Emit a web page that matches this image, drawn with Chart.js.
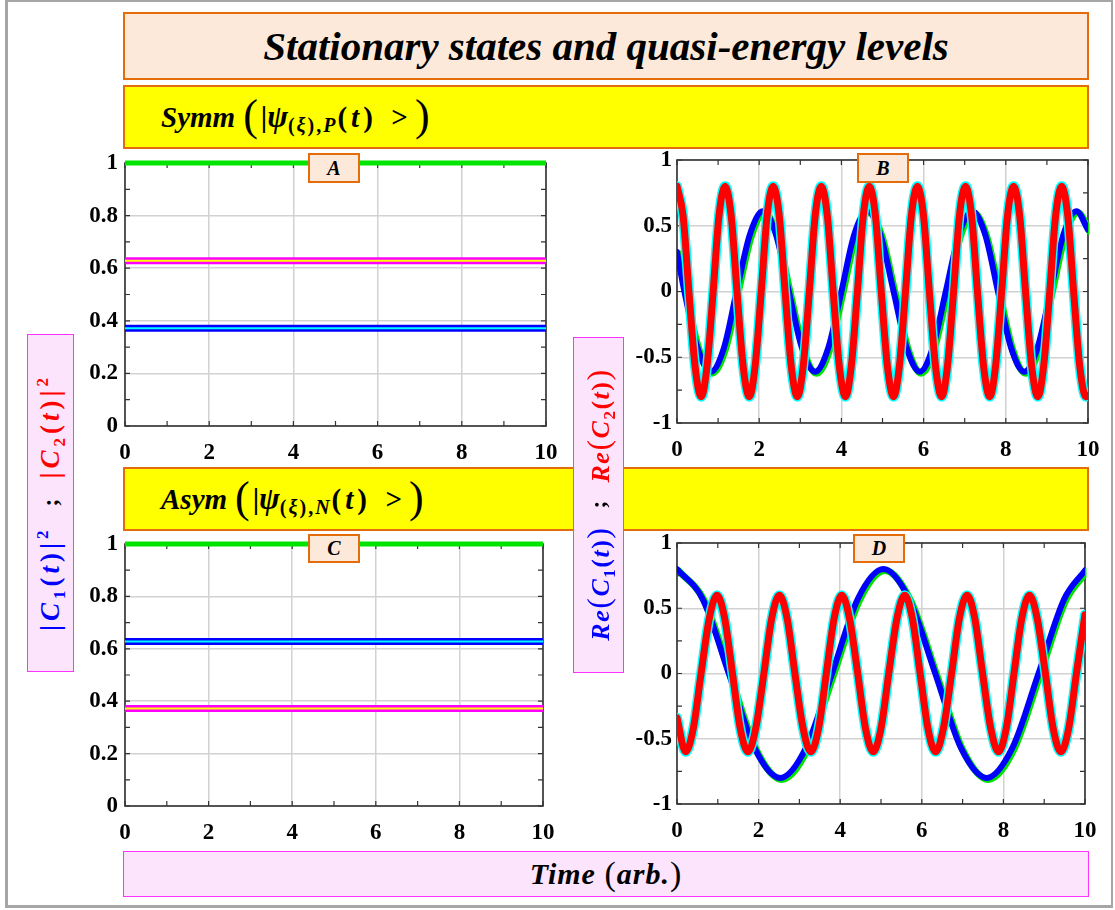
<!DOCTYPE html>
<html>
<head>
<meta charset="utf-8">
<script src="https://cdn.jsdelivr.net/npm/chart.js@4.4.1/dist/chart.umd.min.js"></script>
<style>
  html, body { margin:0; padding:0; background:#fff; }
  body { width:1115px; height:910px; position:relative; overflow:hidden; font-family:"Liberation Serif", serif; }
  .abs { position:absolute; box-sizing:border-box; }
  .frame { left:5px; top:0; width:1108px; height:908px; border-left:3px solid #a6a6a6; border-top:2px solid #a6a6a6; border-bottom:3px solid #a6a6a6; border-right:2px solid #a6a6a6; }
  .title { left:123px; top:12px; width:966px; height:68px; background:#fde9d9; border:2px solid #e46c0a; display:flex; align-items:center; justify-content:center; font-weight:bold; font-style:italic; font-size:41px; color:#000; }
  .yel { left:123px; width:966px; height:64px; background:#ffff00; border:2px solid #e46c0a; display:flex; align-items:center; padding-left:36px; font-weight:bold; font-size:29px; color:#000; white-space:nowrap; }
  .it { font-style:italic; font-weight:bold; }
  .bp { font-size:44px; font-weight:normal; font-style:normal; position:relative; top:-2px; margin:0 3px; }
  .sub { font-size:20px; position:relative; top:8px; font-weight:bold; letter-spacing:2px; }
  .ps { font-size:31px; }
  .plab { width:52px; height:30px; background:#fde9d9; border:2px solid #e46c0a; display:flex; align-items:center; justify-content:center; font-weight:bold; font-style:italic; font-size:20px; color:#000; }
  .pink { background:#fde4fd; border:1.5px solid #ff33ff; }
  .rot { position:absolute; display:flex; align-items:center; justify-content:center; transform:rotate(-90deg); white-space:nowrap; font-weight:bold; font-size:27px; letter-spacing:4px; }
  .blue { color:#0000ff; }
  .red { color:#ff0000; }
  .semi { color:#000; margin:0 20px; font-size:24px; letter-spacing:0; }
  .s2 { font-size:17px; position:relative; top:-11px; }
  .s1 { font-size:17px; position:relative; top:6px; }
  .time { left:123px; top:851px; width:966px; height:46px; display:flex; align-items:center; justify-content:center; font-weight:bold; font-style:italic; font-size:30px; letter-spacing:1px; color:#000; }
  canvas { position:absolute; }
</style>
</head>
<body>
<div class="abs frame"></div>
<div class="abs title">Stationary states and quasi-energy levels</div>
<div class="abs yel" style="top:85px;height:64px;"><span class="it">Symm</span><span class="bp" style="margin-left:8px">(</span><span>|</span><span class="it ps">ψ</span><span class="sub">(<span class="it">ξ</span>),<span class="it">P</span></span><span style="letter-spacing:4px">(<span class="it">t</span>)</span>&nbsp;&nbsp;&gt;<span class="bp" style="margin-left:7px">)</span></div>
<div class="abs yel" style="top:467px;height:64px;"><span class="it">Asym</span><span class="bp" style="margin-left:8px">(</span><span>|</span><span class="it ps">ψ</span><span class="sub">(<span class="it">ξ</span>),<span class="it">N</span></span><span style="letter-spacing:4px">(<span class="it">t</span>)</span>&nbsp;&nbsp;&gt;<span class="bp" style="margin-left:7px">)</span></div>

<canvas id="cA" width="480" height="320" style="left:80px;top:150px;"></canvas>
<canvas id="cB" width="480" height="320" style="left:620px;top:148px;"></canvas>
<canvas id="cC" width="480" height="320" style="left:80px;top:532px;"></canvas>
<canvas id="cD" width="480" height="320" style="left:620px;top:531px;"></canvas>

<div class="abs plab" style="left:308px;top:153px;">A</div>
<div class="abs plab" style="left:857px;top:153px;">B</div>
<div class="abs plab" style="left:308px;top:534px;height:29px;">C</div>
<div class="abs plab" style="left:853px;top:534px;height:29px;">D</div>

<div class="abs pink" style="left:27px;top:334px;width:47px;height:338px;">
  <div class="rot" style="width:338px;height:47px;left:-147px;top:144px;">
    <span class="blue">|<span class="it">C</span><span class="s1">1</span>(<span class="it">t</span>)|<span class="s2">2</span></span><span class="semi">;</span><span class="red">|<span class="it">C</span><span class="s1">2</span>(<span class="it">t</span>)|<span class="s2">2</span></span>
  </div>
</div>
<div class="abs pink" style="left:573px;top:337px;width:51px;height:336px;">
  <div class="rot" style="width:336px;height:51px;left:-144px;top:141px;font-size:26px;letter-spacing:1.5px;">
    <span class="blue"><span class="it">Re</span><span style="font-size:32px;font-weight:normal">(</span><span class="it">C</span><span class="s1">1</span>(<span class="it">t</span>)<span style="font-size:32px;font-weight:normal">)</span></span><span class="semi" style="margin:0 18px">;</span><span class="red"><span class="it">Re</span><span style="font-size:32px;font-weight:normal">(</span><span class="it">C</span><span class="s1">2</span>(<span class="it">t</span>)<span style="font-size:32px;font-weight:normal">)</span></span>
  </div>
</div>
<div class="abs pink time"><span>Time</span>&nbsp;<span style="font-size:34px;font-weight:normal;font-style:normal">(</span><span>arb.</span><span style="font-size:34px;font-weight:normal;font-style:normal">)</span></div>

<script>
// ---------- data ----------
const xTicks = [0, 2, 4, 6, 8, 10];
const xMinor = [1, 3, 5, 7, 9];
const yTicksProb = [0, 0.2, 0.4, 0.6, 0.8, 1];
const yMinorProb = [0.1, 0.3, 0.5, 0.7, 0.9];
const yTicksRe = [-1, -0.5, 0, 0.5, 1];
const yMinorRe = [-0.75, -0.25, 0.25, 0.75];

// Panel A (symmetric) : constant populations
const tFlat = [0, 10];
const sumA = [1, 1];
const c1SqA = [0.372, 0.372];
const c2SqA = [0.628, 0.628];
// Panel C (asymmetric)
const sumC = [1, 1];
const c1SqC = [0.628, 0.628];
const c2SqC = [0.372, 0.372];

// Panel B : Re(C1), Re(C2)
const tReC1_B = [0,0.18,0.50,0.82,1.14,1.45,1.77,2.09,2.41,2.72,3.04,3.36,3.68,4.00,4.31,4.63,4.95,5.27,5.59,5.91,6.22,6.54,6.86,7.18,7.50,7.81,8.13,8.45,8.77,9.09,9.40,9.72,10];
const reC1_B  = [0.3,0,-0.43,-0.61,-0.43,0,0.43,0.61,0.43,0,-0.43,-0.61,-0.43,0,0.43,0.61,0.43,0,-0.43,-0.61,-0.43,0,0.43,0.61,0.43,0,-0.43,-0.61,-0.43,0,0.43,0.61,0.47];
const tReC2_B = [0,0.15,0.29,0.44,0.59,0.73,0.88,1.02,1.17,1.32,1.46,1.61,1.76,1.90,2.05,2.19,2.34,2.49,2.63,2.78,2.93,3.07,3.22,3.36,3.51,3.66,3.80,3.95,4.10,4.24,4.39,4.53,4.68,4.83,4.97,5.12,5.27,5.41,5.56,5.70,5.85,6.00,6.14,6.29,6.44,6.58,6.73,6.87,7.02,7.17,7.31,7.46,7.61,7.75,7.90,8.04,8.19,8.34,8.48,8.63,8.78,8.92,9.07,9.21,9.36,9.51,9.65,9.80,9.95,10];
const reC2_B  = [0.8,0.57,0,-0.57,-0.8,-0.57,0,0.57,0.8,0.57,0,-0.57,-0.8,-0.57,0,0.57,0.8,0.57,0,-0.57,-0.8,-0.57,0,0.57,0.8,0.57,0,-0.57,-0.8,-0.57,0,0.57,0.8,0.57,0,-0.57,-0.8,-0.57,0,0.57,0.8,0.57,0,-0.57,-0.8,-0.57,0,0.57,0.8,0.57,0,-0.57,-0.8,-0.57,0,0.57,0.8,0.57,0,-0.57,-0.8,-0.57,0,0.57,0.8,0.57,0,-0.57,-0.8,-0.79];

// Panel D : Re(C1), Re(C2)
const tReC1_D = [0,0.63,1.27,1.90,2.53,3.16,3.80,4.43,5.06,5.69,6.33,6.96,7.59,8.22,8.86,9.49,10];
const reC1_D  = [0.8,0.57,0,-0.57,-0.8,-0.57,0,0.57,0.8,0.57,0,-0.57,-0.8,-0.57,0,0.57,0.79];
const tReC2_D = [0,0.21,0.40,0.59,0.79,0.98,1.17,1.36,1.55,1.74,1.93,2.13,2.32,2.51,2.70,2.89,3.09,3.28,3.47,3.66,3.85,4.04,4.23,4.43,4.62,4.81,5.00,5.19,5.39,5.58,5.77,5.96,6.15,6.34,6.53,6.73,6.92,7.11,7.30,7.49,7.69,7.88,8.07,8.26,8.45,8.64,8.83,9.03,9.22,9.41,9.60,9.79,10];
const reC2_D  = [-0.34,-0.6,-0.42,0,0.42,0.6,0.42,0,-0.42,-0.6,-0.42,0,0.42,0.6,0.42,0,-0.42,-0.6,-0.42,0,0.42,0.6,0.42,0,-0.42,-0.6,-0.42,0,0.42,0.6,0.42,0,-0.42,-0.6,-0.42,0,0.42,0.6,0.42,0,-0.42,-0.6,-0.42,0,0.42,0.6,0.42,0,-0.42,-0.6,-0.42,0,0.45];

// ---------- helpers ----------
const pts = (t, v) => t.map((x, i) => ({ x: x, y: v[i] }));
Chart.defaults.font.family = '"Liberation Serif", serif';

const frameTicks = {
  id: 'frameTicks',
  beforeDatasetsDraw(chart, args, o) {
    const { ctx, chartArea: a } = chart;
    const x = chart.scales.x, y = chart.scales.y;
    ctx.save();
    ctx.strokeStyle = '#333';
    ctx.lineWidth = 1.2;
    const L = 5;
    ctx.beginPath();
    o.xMarks.forEach(v => {
      const p = x.getPixelForValue(v);
      ctx.moveTo(p, a.bottom); ctx.lineTo(p, a.bottom - L);
      ctx.moveTo(p, a.top); ctx.lineTo(p, a.top + L);
    });
    o.yMarks.forEach(v => {
      const p = y.getPixelForValue(v);
      ctx.moveTo(a.left, p); ctx.lineTo(a.left + L, p);
      ctx.moveTo(a.right, p); ctx.lineTo(a.right - L, p);
    });
    ctx.stroke();
    ctx.lineWidth = 1.6;
    ctx.strokeRect(a.left, a.top, a.right - a.left, a.bottom - a.top);
    ctx.restore();
  }
};
const shiftPlugin = {
  id: 'shiftDs',
  beforeDatasetDraw(chart, args) {
    const s = chart.data.datasets[args.index].shift;
    if (s) { chart.ctx.save(); chart.ctx.translate(s, s); }
  },
  afterDatasetDraw(chart, args) {
    if (chart.data.datasets[args.index].shift) chart.ctx.restore();
  }
};
function noPad(s) { s.paddingLeft = 0; s.paddingRight = 0; s.paddingTop = 0; s.paddingBottom = 0; }

function makeChart(id, datasets, yTicks, yMinor, yMin, yMax, lay) {
  const tickFont = { family: '"Liberation Serif", serif', size: 23, weight: 'bold' };
  return new Chart(document.getElementById(id), {
    type: 'line',
    data: { datasets: datasets },
    options: {
      responsive: false,
      animation: false,
      events: [],
      layout: { padding: { top: lay.top, right: lay.right, left: 0, bottom: 0 } },
      elements: { point: { radius: 0 }, line: { borderCapStyle: 'round', borderJoinStyle: 'round' } },
      plugins: {
        legend: { display: false },
        tooltip: { enabled: false },
        frameTicks: { xMarks: xTicks.concat(xMinor), yMarks: yTicks.concat(yMinor) }
      },
      scales: {
        x: {
          type: 'linear', min: 0, max: 10,
          afterBuildTicks: s => { s.ticks = xTicks.map(v => ({ value: v })); },
          afterFit: s => { s.height = lay.xh; noPad(s); },
          grid: { color: '#d2d2d2', lineWidth: 1.5, drawTicks: false },
          border: { display: false },
          ticks: { font: tickFont, color: '#000', padding: lay.xpad, maxRotation: 0, autoSkip: false }
        },
        y: {
          type: 'linear', min: yMin, max: yMax,
          afterBuildTicks: s => { s.ticks = yTicks.map(v => ({ value: v })); },
          afterFit: s => { s.width = lay.yw; noPad(s); },
          grid: { color: '#d2d2d2', lineWidth: 1.5, drawTicks: false },
          border: { display: false },
          ticks: { font: tickFont, color: '#000', padding: lay.ypad, autoSkip: false, callback: v => String(v) }
        }
      }
    },
    plugins: [frameTicks, shiftPlugin]
  });
}

function probSets(sum, c1, c2) {
  return [
    { data: pts(tFlat, c2), borderColor: '#ffff00', borderWidth: 2, order: 1, clip: 0, borderCapStyle: 'butt' },
    { data: pts(tFlat, c2), borderColor: '#ff00ff', borderWidth: 7, order: 2, clip: 0, borderCapStyle: 'butt' },
    { data: pts(tFlat, c1), borderColor: '#00ffff', borderWidth: 2, order: 1, clip: 0, borderCapStyle: 'butt' },
    { data: pts(tFlat, c1), borderColor: '#0000ff', borderWidth: 7, order: 2, clip: 0, borderCapStyle: 'butt' },
    { data: pts(tFlat, sum), borderColor: '#00e400', borderWidth: 5, order: 3, clip: { left: 0, right: 0, top: 3, bottom: 0 }, borderCapStyle: 'butt' }
  ];
}
function reSets(t1, v1, t2, v2) {
  return [
    { data: pts(t2, v2), borderColor: '#ff0000', borderWidth: 7, order: 1, clip: 0, cubicInterpolationMode: 'monotone' },
    { data: pts(t2, v2), borderColor: '#00ffff', borderWidth: 10, order: 2, clip: 0, cubicInterpolationMode: 'monotone' },
    { data: pts(t1, v1), borderColor: '#0000ff', borderWidth: 6, order: 3, clip: 0, cubicInterpolationMode: 'monotone' },
    { data: pts(t1, v1), borderColor: '#00e400', borderWidth: 7, order: 4, clip: 0, cubicInterpolationMode: 'monotone', shift: 1.5 }
  ];
}

makeChart('cA', probSets(sumA, c1SqA, c2SqA), yTicksProb, yMinorProb, 0, 1, { top: 13, right: 14, xh: 44, yw: 45, xpad: 13, ypad: 7 });
makeChart('cB', reSets(tReC1_B, reC1_B, tReC2_B, reC2_B), yTicksRe, yMinorRe, -1, 1, { top: 12, right: 12, xh: 45, yw: 57, xpad: 13, ypad: 5 });
makeChart('cC', probSets(sumC, c1SqC, c2SqC), yTicksProb, yMinorProb, 0, 1, { top: 12, right: 17, xh: 46, yw: 45, xpad: 13, ypad: 7 });
makeChart('cD', reSets(tReC1_D, reC1_D, tReC2_D, reC2_D), yTicksRe, yMinorRe, -1, 1, { top: 12, right: 15, xh: 47, yw: 57, xpad: 13, ypad: 5 });
</script>
</body>
</html>
